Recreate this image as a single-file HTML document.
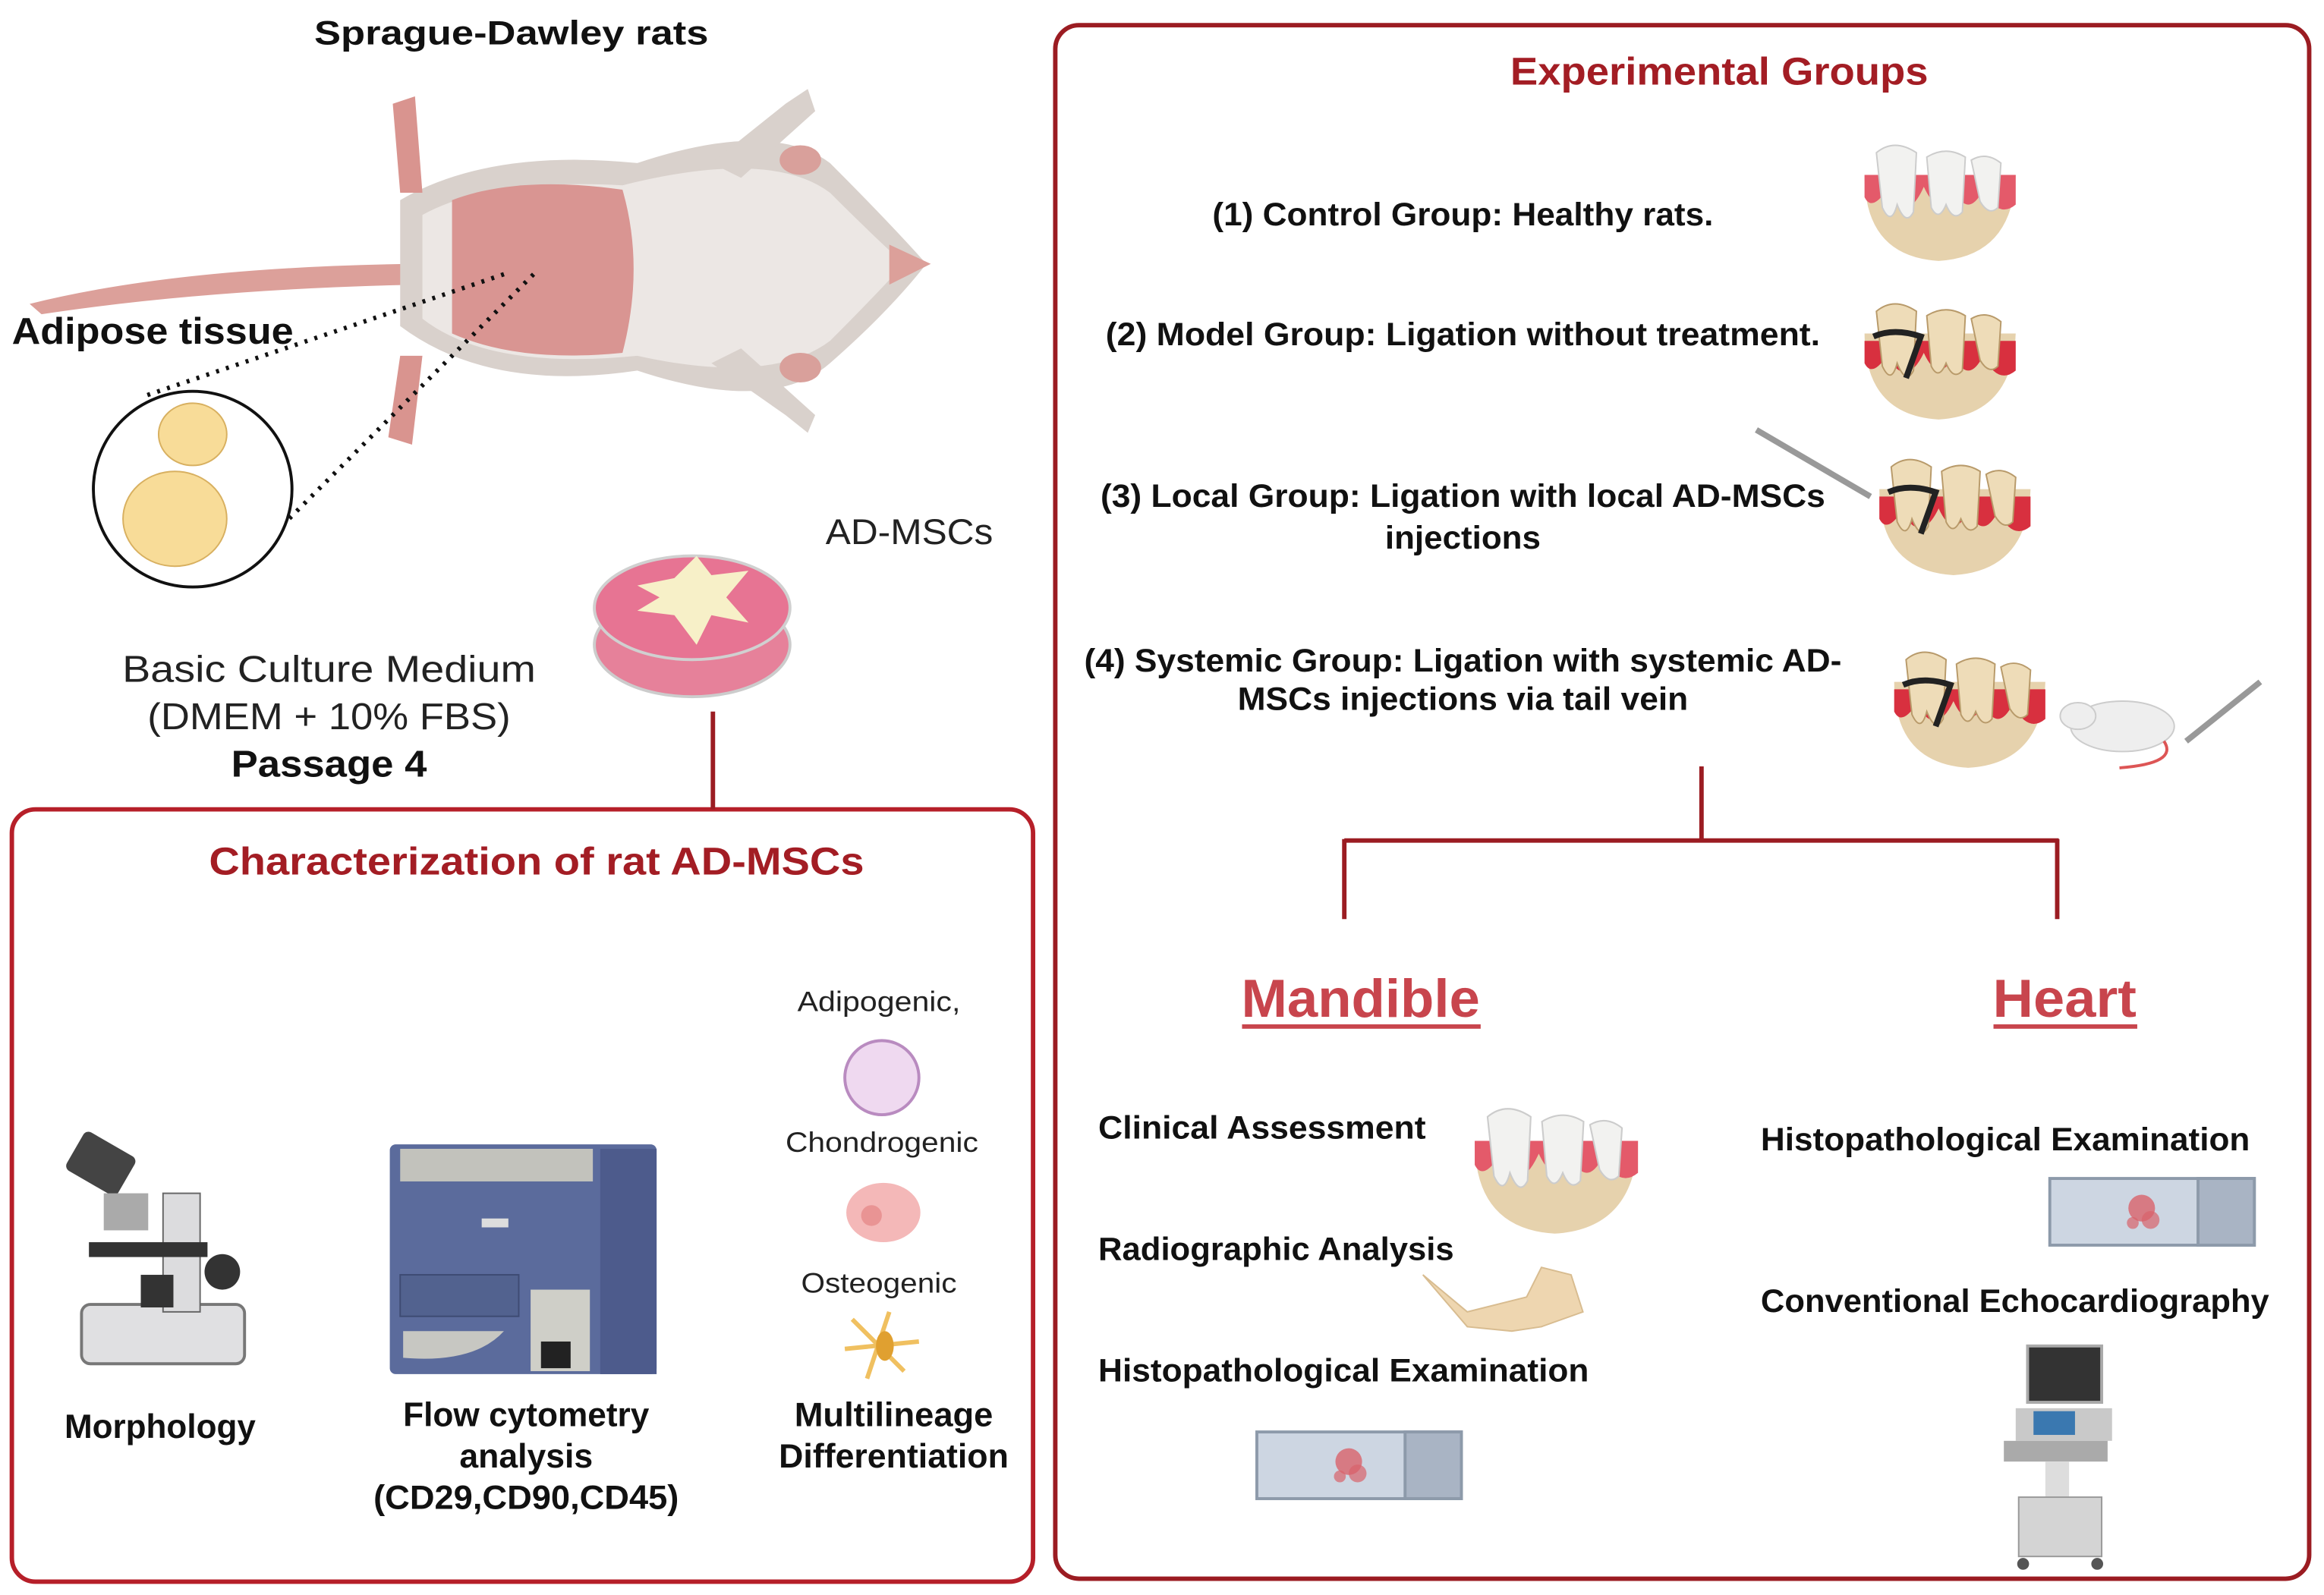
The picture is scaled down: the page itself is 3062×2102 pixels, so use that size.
<!DOCTYPE html>
<html><head><meta charset="utf-8"><style>
html,body{margin:0;padding:0;background:#fff;}
svg{display:block;}
text{font-family:"Liberation Sans",sans-serif;}
.b{font-weight:bold;fill:#111;}
.r{fill:#222;}
.red{font-weight:bold;fill:#a31d24;}
</style></head><body>
<svg width="3062" height="2102" viewBox="0 0 1568 1076" preserveAspectRatio="none" xmlns="http://www.w3.org/2000/svg">
<defs>
<g id="teeth">
  <path d="M0,20 Q0,75 50,78 Q100,75 102,20 Z" fill="#e6d2ad"/>
  <path d="M0,20 L102,20 L102,40 Q90,50 80,30 Q70,50 60,30 Q50,50 40,28 Q28,55 15,30 Q5,45 0,35Z" fill="#e45a6a"/>
  <path d="M8,5 Q20,-5 35,5 L33,45 Q28,55 22,40 Q18,55 12,42 Z" fill="#f2f2f0" stroke="#ccc" stroke-width="1"/>
  <path d="M42,8 Q55,0 68,8 L66,45 Q60,52 55,40 Q50,52 45,42Z" fill="#f2f2f0" stroke="#ccc" stroke-width="1"/>
  <path d="M72,10 Q82,4 92,12 L90,42 Q84,48 78,38Z" fill="#f2f2f0" stroke="#ccc" stroke-width="1"/>
</g>
<g id="teethd">
  <path d="M0,20 Q0,75 50,78 Q100,75 102,20 Z" fill="#e6d2ad"/>
  <path d="M0,25 L102,25 L102,45 Q90,55 80,35 Q70,55 60,35 Q50,55 40,33 Q28,58 15,35 Q5,50 0,40Z" fill="#d8303f"/>
  <path d="M8,5 Q20,-5 35,5 L33,45 Q28,55 22,40 Q18,55 12,42 Z" fill="#eedcb8" stroke="#b89a6a" stroke-width="1"/>
  <path d="M42,8 Q55,0 68,8 L66,45 Q60,52 55,40 Q50,52 45,42Z" fill="#eedcb8" stroke="#b89a6a" stroke-width="1"/>
  <path d="M72,10 Q82,4 92,12 L90,42 Q84,48 78,38Z" fill="#eedcb8" stroke="#b89a6a" stroke-width="1"/>
  <path d="M6,22 Q20,16 38,22 L28,50" fill="none" stroke="#222" stroke-width="4"/>
</g>
<g id="slide">
  <rect x="0" y="0" width="138" height="45" fill="#cdd6e2" stroke="#8d9aaa" stroke-width="2"/>
  <rect x="100" y="0" width="38" height="45" fill="#a9b4c4" stroke="#8d9aaa" stroke-width="2"/>
  <circle cx="62" cy="20" r="9" fill="#d9636b" opacity="0.8"/>
  <circle cx="68" cy="28" r="6" fill="#d9636b" opacity="0.7"/>
  <circle cx="56" cy="30" r="4" fill="#d9636b" opacity="0.7"/>
</g>
</defs>

<!-- Boxes -->
<rect x="712" y="17" width="846" height="1048" rx="16" fill="none" stroke="#9b1c22" stroke-width="3"/>
<rect x="8" y="546" width="689" height="521" rx="16" fill="none" stroke="#b61f29" stroke-width="3"/>
<line x1="481" y1="480" x2="481" y2="546" stroke="#9b1c22" stroke-width="3"/>

<!-- Rat -->
<path d="M20,205 Q120,180 280,178 L282,192 Q140,195 28,212Z" fill="#dca09a"/>
<path d="M270,135 Q330,100 430,110 Q520,80 560,110 Q600,150 625,178 Q600,210 560,245 Q520,280 430,250 Q330,265 270,220 Z" fill="#d9d1cc"/>
<path d="M285,145 Q330,120 420,125 Q520,100 560,130 Q590,160 610,178 Q590,200 560,230 Q520,260 430,240 Q330,250 285,215 Z" fill="#ece7e4"/>
<path d="M305,135 Q350,118 420,128 Q435,180 420,238 Q350,245 305,225 Z" fill="#d99592"/>
<path d="M265,70 L280,65 L285,130 L270,130 Z" fill="#d9948f"/>
<path d="M270,240 L285,240 L278,300 L262,295 Z" fill="#d9948f"/>
<path d="M480,110 L530,70 L545,60 L550,75 L500,120Z" fill="#d9d1cc"/>
<path d="M480,245 L530,280 L545,292 L550,280 L500,235Z" fill="#d9d1cc"/>
<ellipse cx="540" cy="108" rx="14" ry="10" fill="#d9a09b"/>
<ellipse cx="540" cy="248" rx="14" ry="10" fill="#d9a09b"/>
<path d="M600,165 L628,178 L600,192Z" fill="#dca09a"/>
<!-- dotted lines -->
<line x1="340" y1="185" x2="95" y2="268" stroke="#111" stroke-width="3" stroke-dasharray="2,5"/>
<line x1="360" y1="185" x2="195" y2="350" stroke="#111" stroke-width="3" stroke-dasharray="2,5"/>
<!-- fat circle -->
<ellipse cx="130" cy="330" rx="67" ry="66" fill="#fff" stroke="#111" stroke-width="2"/>
<ellipse cx="130" cy="293" rx="23" ry="21" fill="#f8dc98" stroke="#d8b060" stroke-width="1"/>
<ellipse cx="118" cy="350" rx="35" ry="32" fill="#f8dc98" stroke="#d8b060" stroke-width="1"/>

<!-- dish -->
<ellipse cx="467" cy="435" rx="66" ry="35" fill="#e6819a" stroke="#ccc" stroke-width="2"/>
<ellipse cx="467" cy="410" rx="66" ry="35" fill="#e77493" stroke="#d0d0d0" stroke-width="2"/>
<path d="M430,395 L455,390 L470,375 L480,388 L505,385 L490,403 L505,420 L480,415 L470,435 L455,415 L430,412 L445,403Z" fill="#f7f0c8"/>

<!-- left texts -->
<text x="345" y="30" class="b" font-size="23" text-anchor="middle" textLength="266" lengthAdjust="spacingAndGlyphs">Sprague-Dawley rats</text>
<text x="8" y="232" class="b" font-size="25" textLength="190" lengthAdjust="spacingAndGlyphs">Adipose tissue</text>
<text x="222" y="460" class="r" font-size="25" text-anchor="middle" textLength="279" lengthAdjust="spacingAndGlyphs">Basic Culture Medium</text>
<text x="222" y="492" class="r" font-size="25" text-anchor="middle" textLength="245" lengthAdjust="spacingAndGlyphs">(DMEM + 10% FBS)</text>
<text x="222" y="524" class="b" font-size="25" text-anchor="middle" textLength="132" lengthAdjust="spacingAndGlyphs">Passage 4</text>
<text x="557" y="367" class="r" font-size="24" textLength="113" lengthAdjust="spacingAndGlyphs">AD-MSCs</text>

<!-- characterization -->
<text x="362" y="590" class="red" font-size="26" text-anchor="middle" textLength="442" lengthAdjust="spacingAndGlyphs">Characterization of rat AD-MSCs</text>
<text x="593" y="682" class="r" font-size="19" text-anchor="middle" textLength="110" lengthAdjust="spacingAndGlyphs">Adipogenic,</text>
<ellipse cx="595" cy="727" rx="25" ry="25" fill="#efd9f0" stroke="#b98bc0" stroke-width="2"/>
<text x="595" y="777" class="r" font-size="19" text-anchor="middle" textLength="130" lengthAdjust="spacingAndGlyphs">Chondrogenic</text>
<ellipse cx="596" cy="818" rx="25" ry="20" fill="#f4b8b8"/>
<circle cx="588" cy="820" r="7" fill="#e99494"/>
<text x="593" y="872" class="r" font-size="19" text-anchor="middle" textLength="105" lengthAdjust="spacingAndGlyphs">Osteogenic</text>
<path d="M575,890 L610,925 M600,885 L585,930 M570,910 L620,905" stroke="#f0c060" stroke-width="3"/>
<ellipse cx="597" cy="908" rx="6" ry="10" fill="#e0a030"/>
<text x="108" y="970" class="b" font-size="23" text-anchor="middle" textLength="129" lengthAdjust="spacingAndGlyphs">Morphology</text>
<text x="355" y="962" class="b" font-size="23" text-anchor="middle" textLength="166" lengthAdjust="spacingAndGlyphs">Flow cytometry</text>
<text x="355" y="990" class="b" font-size="23" text-anchor="middle" textLength="90" lengthAdjust="spacingAndGlyphs">analysis</text>
<text x="355" y="1018" class="b" font-size="23" text-anchor="middle" textLength="206" lengthAdjust="spacingAndGlyphs">(CD29,CD90,CD45)</text>
<text x="603" y="962" class="b" font-size="23" text-anchor="middle" textLength="134" lengthAdjust="spacingAndGlyphs">Multilineage</text>
<text x="603" y="990" class="b" font-size="23" text-anchor="middle" textLength="155" lengthAdjust="spacingAndGlyphs">Differentiation</text>

<!-- microscope -->
<rect x="55" y="880" width="110" height="40" rx="6" fill="#e0e0e2" stroke="#777" stroke-width="2"/>
<rect x="110" y="805" width="25" height="80" fill="#dcdcde" stroke="#666"/>
<rect x="60" y="838" width="80" height="10" fill="#333"/>
<circle cx="150" cy="858" r="12" fill="#333"/>
<rect x="48" y="770" width="40" height="30" rx="4" fill="#444" transform="rotate(30 68 785)"/>
<rect x="70" y="805" width="30" height="25" fill="#aaa"/>
<rect x="95" y="860" width="22" height="22" fill="#333"/>

<!-- flow cytometer -->
<rect x="263" y="772" width="180" height="155" rx="4" fill="#5b6b9c"/>
<rect x="405" y="775" width="38" height="152" fill="#4d5b8c"/>
<rect x="270" y="775" width="130" height="22" fill="#c2c2bc"/>
<rect x="325" y="822" width="18" height="6" fill="#ddd"/>
<rect x="270" y="860" width="80" height="28" fill="#52628f" stroke="#3e4b73"/>
<path d="M272,898 L340,898 Q320,920 272,916Z" fill="#c7c7c2"/>
<rect x="358" y="870" width="40" height="55" fill="#cfcfc8"/>
<rect x="365" y="905" width="20" height="18" fill="#222"/>

<!-- Experimental groups -->
<text x="1160" y="57" class="red" font-size="26" text-anchor="middle" textLength="282" lengthAdjust="spacingAndGlyphs">Experimental Groups</text>
<text x="987" y="152" class="b" font-size="22" text-anchor="middle" textLength="338" lengthAdjust="spacingAndGlyphs">(1) Control Group: Healthy rats.</text>
<text x="987" y="233" class="b" font-size="22" text-anchor="middle" textLength="482" lengthAdjust="spacingAndGlyphs">(2) Model Group: Ligation without treatment.</text>
<text x="987" y="342" class="b" font-size="22" text-anchor="middle" textLength="489" lengthAdjust="spacingAndGlyphs">(3) Local Group: Ligation with local AD-MSCs</text>
<text x="987" y="370" class="b" font-size="22" text-anchor="middle" textLength="105" lengthAdjust="spacingAndGlyphs">injections</text>
<text x="987" y="453" class="b" font-size="22" text-anchor="middle" textLength="511" lengthAdjust="spacingAndGlyphs">(4) Systemic Group: Ligation with systemic AD-</text>
<text x="987" y="479" class="b" font-size="22" text-anchor="middle" textLength="304" lengthAdjust="spacingAndGlyphs">MSCs injections via tail vein</text>

<use href="#teeth" x="1258" y="98"/>
<use href="#teethd" x="1258" y="205"/>
<use href="#teethd" x="1268" y="310"/>
<line x1="1185" y1="290" x2="1262" y2="335" stroke="#999" stroke-width="4"/>
<use href="#teethd" x="1278" y="440"/>
<!-- small rat -->
<ellipse cx="1432" cy="490" rx="35" ry="17" fill="#eeeeee" stroke="#ccc"/>
<ellipse cx="1402" cy="483" rx="12" ry="9" fill="#eeeeee" stroke="#ccc"/>
<path d="M1460,500 Q1470,515 1430,518" stroke="#d55" stroke-width="2" fill="none"/>
<line x1="1475" y1="500" x2="1525" y2="460" stroke="#999" stroke-width="4"/>

<!-- tree -->
<path d="M1148,517 L1148,567 M907,567 L1389,567 M907,566 L907,620 M1388,566 L1388,620" stroke="#9b1c22" stroke-width="3" fill="none"/>
<text x="918" y="686" font-size="36" text-anchor="middle" font-weight="bold" fill="#c8454d" textLength="161" lengthAdjust="spacingAndGlyphs">Mandible</text>
<rect x="838" y="691" width="161" height="3" fill="#c8454d"/>
<text x="1393" y="686" font-size="36" text-anchor="middle" font-weight="bold" fill="#c8454d" textLength="97" lengthAdjust="spacingAndGlyphs">Heart</text>
<rect x="1345" y="691" width="97" height="3" fill="#c8454d"/>

<text x="741" y="768" class="b" font-size="22" textLength="221" lengthAdjust="spacingAndGlyphs">Clinical Assessment</text>
<text x="741" y="850" class="b" font-size="22" textLength="240" lengthAdjust="spacingAndGlyphs">Radiographic Analysis</text>
<text x="741" y="932" class="b" font-size="22" textLength="331" lengthAdjust="spacingAndGlyphs">Histopathological Examination</text>
<text x="1188" y="776" class="b" font-size="22" textLength="330" lengthAdjust="spacingAndGlyphs">Histopathological Examination</text>
<text x="1188" y="885" class="b" font-size="22" textLength="343" lengthAdjust="spacingAndGlyphs">Conventional Echocardiography</text>

<g transform="translate(995,748) scale(1.08)"><use href="#teeth"/></g>
<path d="M960,860 L990,885 L1030,875 L1040,855 L1060,860 L1068,885 L1040,895 L1020,898 L990,895Z" fill="#eed6b0" stroke="#d8bc90"/>
<use href="#slide" x="848" y="966"/>
<use href="#slide" x="1383" y="795"/>

<!-- echo machine -->
<rect x="1368" y="908" width="50" height="38" fill="#333" stroke="#aaa" stroke-width="2"/>
<rect x="1360" y="950" width="65" height="22" fill="#c9c9c9"/>
<rect x="1372" y="952" width="28" height="16" fill="#3a78b0"/>
<rect x="1352" y="972" width="70" height="14" fill="#aaa"/>
<rect x="1380" y="986" width="16" height="40" fill="#ddd"/>
<rect x="1362" y="1010" width="56" height="40" fill="#d4d4d4" stroke="#999"/>
<circle cx="1365" cy="1055" r="4" fill="#555"/><circle cx="1415" cy="1055" r="4" fill="#555"/>
</svg>
</body></html>
